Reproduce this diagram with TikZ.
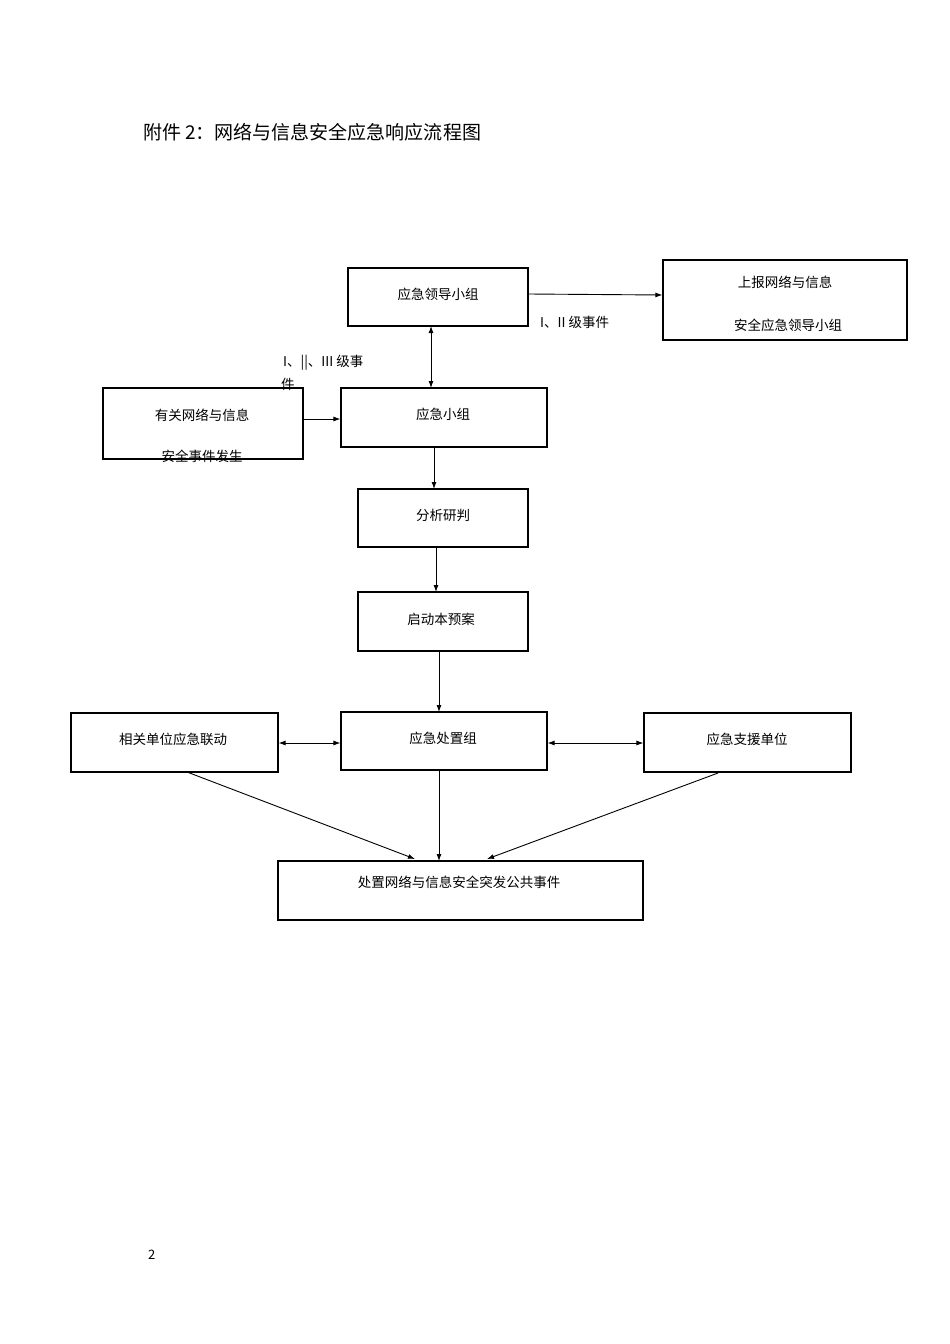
\documentclass[tikz,border=0pt]{standalone}
\usepackage{fontspec}
\setmainfont{Noto Sans CJK SC}
\usetikzlibrary{arrows.meta}
\begin{document}
\begin{tikzpicture}[x=1pt,y=-1pt,
 box/.style={draw,line width=1.1pt},
 t/.style={font=\fontsize{13.5}{15}\selectfont,inner sep=0pt,anchor=center},
 ar/.style={line width=0.9pt,-{Latex[length=7pt,width=5pt]}},
 dar/.style={line width=0.9pt,{Latex[length=7pt,width=5pt]}-{Latex[length=7pt,width=5pt]}}]
\useasboundingbox (0,0) rectangle (950,1344);
\node[anchor=west,inner sep=0pt,font=\fontsize{19}{21}\selectfont] (title) at (143,132) {附件 2：网络与信息安全应急响应流程图};
\node[box,minimum width=180,minimum height=58] (A) at (438,297) {};
\node[t] at (438,294) {应急领导小组};
\node[box,minimum width=244,minimum height=80] (B) at (785,300) {};
\node[t] at (785,282) {上报网络与信息};
\node[t] at (788,325) {安全应急领导小组};
\node[box,minimum width=200,minimum height=71] (C) at (203,423.5) {};
\node[t] at (202,415) {有关网络与信息};
\node[t] at (202,456) {安全事件发生};
\node[box,minimum width=206,minimum height=59] (D) at (444,417.5) {};
\node[t] at (443,414) {应急小组};
\node[box,minimum width=170,minimum height=58] (E) at (443,518) {};
\node[t] at (443,515) {分析研判};
\node[box,minimum width=170,minimum height=59] (F) at (443,621.5) {};
\node[t] at (441,619) {启动本预案};
\node[box,minimum width=207,minimum height=59] (G) at (174.5,742.5) {};
\node[t] at (173,739) {相关单位应急联动};
\node[box,minimum width=206,minimum height=58] (H) at (444,741) {};
\node[t] at (443,738) {应急处置组};
\node[box,minimum width=207,minimum height=59] (I) at (747.5,742.5) {};
\node[t] at (747,739) {应急支援单位};
\node[box,minimum width=365,minimum height=59] (J) at (460.5,890.5) {};
\node[t] at (459,882) {处置网络与信息安全突发公共事件};
\node[t,anchor=west] (l1) at (540,322) {I、II 级事件};
\node[t,anchor=west] (l2) at (283,363) {I、||、III 级事};
\node[t,anchor=west] (l3) at (281,384) {件};
\node[anchor=west,inner sep=0pt,font=\fontsize{13}{15}\selectfont] (pg) at (148,1255) {2};
\draw[ar] (A.east|-0,294) -- (B.west|-0,295);
\draw[dar] (431,326) -- (431,388);
\draw[ar] (C.east|-0,419) -- (D.west|-0,419);
\draw[ar] (434,447) -- (434,489);
\draw[ar] (436,547) -- (436,592);
\draw[ar] (439,651) -- (439,712);
\draw[dar] (G.east|-0,743) -- (H.west|-0,743);
\draw[dar] (H.east|-0,743) -- (I.west|-0,743);
\draw[ar] (187,772) -- (415,859);
\draw[ar] (439,770) -- (439,861);
\draw[ar] (718,773) -- (487,859);
\end{tikzpicture}
\end{document}
